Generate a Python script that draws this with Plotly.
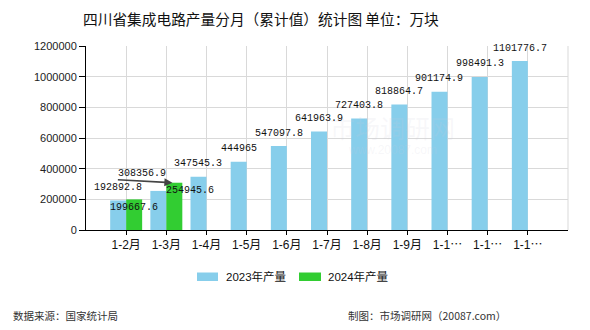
import plotly.graph_objects as go

categories = ["1-2月", "1-3月", "1-4月", "1-5月", "1-6月", "1-7月", "1-8月", "1-9月", "1-10月", "1-11月", "1-12月"]
tick_labels = ["1-2月", "1-3月", "1-4月", "1-5月", "1-6月", "1-7月", "1-8月", "1-9月", "1-1⋯", "1-1⋯", "1-1⋯"]
values_2023 = [192892.8, 254945.6, 347545.3, 444965, 547097.8, 641963.9, 727403.8, 818864.7, 901174.9, 998491.3, 1101776.7]
values_2024 = [199667.6, 308356.9]
label_2023 = ["192892.8", "254945.6", "347545.3", "444965", "547097.8", "641963.9", "727403.8", "818864.7", "901174.9", "998491.3", "1101776.7"]
label_2024 = ["199667.6", "308356.9"]
series_names = ["2023年产量", "2024年产量"]
colors = ["#87CEEB", "#32CD32"]

W, H = 590, 330
L, R, T, B = 86, 22, 46, 100
PW, PH = W - L - R, H - T - B


def px_x(px):
    return (px - L) / PW


def px_y(py):
    return (H - B - py) / PH


fig = go.Figure()
fig.add_trace(go.Bar(x=categories, y=values_2023, name=series_names[0],
                     marker=dict(color=colors[0], line=dict(width=0))))
fig.add_trace(go.Bar(x=categories[:len(values_2024)], y=values_2024, name=series_names[1],
                     marker=dict(color=colors[1], line=dict(width=0))))

lab_font = dict(family="Liberation Mono, DejaVu Sans Mono, monospace", size=10, color="#111")
annotations = []
# watermark (drawn first so labels sit on top)
annotations.append(dict(x=px_x(392), y=px_y(127), xref="paper", yref="paper",
                        text="市场调研网", showarrow=False, xanchor="center", yanchor="middle",
                        font=dict(family="Noto Sans CJK SC", size=25, color="rgba(205,205,220,0.16)")))
annotations.append(dict(x=px_x(392), y=px_y(150), xref="paper", yref="paper",
                        text="www.20087.com", showarrow=False, xanchor="center", yanchor="middle",
                        font=dict(family="Liberation Sans", size=12, color="rgba(205,205,220,0.16)")))
# special label displacement (overlapping labels in original)
shift_2023 = {1: (32, 0)}
shift_2024 = {0: (0, -8), 1: (-32, 9)}
for i, v in enumerate(values_2023):
    dx, dy = shift_2023.get(i, (0, 13))
    annotations.append(dict(x=i - 0.2, y=v, xref="x", yref="y", text=label_2023[i],
                            showarrow=False, xanchor="center", yanchor="middle",
                            xshift=dx, yshift=dy, font=lab_font))
for i, v in enumerate(values_2024):
    dx, dy = shift_2024.get(i, (0, 13))
    annotations.append(dict(x=i + 0.2, y=v, xref="x", yref="y", text=label_2024[i],
                            showarrow=False, xanchor="center", yanchor="middle",
                            xshift=dx, yshift=dy, font=lab_font))
# leader arrow for displaced 2024 label
annotations.append(dict(x=1 + 0.2, y=values_2024[1], xref="x", yref="y", text="",
                        showarrow=True, arrowhead=2, arrowsize=1, arrowwidth=1.6,
                        arrowcolor="#444", ax=-56, ay=-3, xshift=-2, yshift=0))

# title
annotations.append(dict(x=px_x(261), y=px_y(18), xref="paper", yref="paper",
                        text="四川省集成电路产量分月（累计值）统计图 单位：万块",
                        showarrow=False, xanchor="center", yanchor="middle",
                        font=dict(family="Noto Sans CJK SC", size=14.7, color="#111")))
# legend texts
leg_font = dict(family="Liberation Sans, Noto Sans CJK SC", size=11.5, color="#111")
annotations.append(dict(x=px_x(224), y=px_y(276.5), xref="paper", yref="paper", text=series_names[0],
                        showarrow=False, xanchor="left", yanchor="middle", font=leg_font))
annotations.append(dict(x=px_x(326), y=px_y(276.5), xref="paper", yref="paper", text=series_names[1],
                        showarrow=False, xanchor="left", yanchor="middle", font=leg_font))
# footer
foot_font = dict(family="Noto Sans CJK SC", size=10.5, color="#333")
annotations.append(dict(x=px_x(11), y=px_y(315), xref="paper", yref="paper", text="数据来源：国家统计局",
                        showarrow=False, xanchor="left", yanchor="middle", font=foot_font))
annotations.append(dict(x=px_x(508), y=px_y(315), xref="paper", yref="paper", text="制图：市场调研网（20087.com）",
                        showarrow=False, xanchor="right", yanchor="middle", font=foot_font))

shapes = [
    dict(type="rect", xref="paper", yref="paper", x0=px_x(197), x1=px_x(218), y0=px_y(281), y1=px_y(272.5),
         fillcolor=colors[0], line=dict(width=0)),
    dict(type="rect", xref="paper", yref="paper", x0=px_x(299), x1=px_x(321), y0=px_y(281), y1=px_y(272.5),
         fillcolor=colors[1], line=dict(width=0)),
    dict(type="line", xref="paper", yref="paper", x0=1, x1=1, y0=0, y1=1,
         line=dict(color="#d9d9d9", width=1), layer="below"),
]

fig.update_layout(
    width=W, height=H,
    margin=dict(l=L, r=R, t=T, b=B, pad=0),
    paper_bgcolor="white", plot_bgcolor="white",
    barmode="group", bargap=0.204, bargroupgap=0,
    showlegend=False,
    annotations=annotations, shapes=shapes,
    xaxis=dict(type="category", categoryorder="array", categoryarray=categories,
               tickvals=categories, ticktext=tick_labels,
               range=[-1, 11], showgrid=True, gridcolor="#d9d9d9", gridwidth=1,
               showline=True, linecolor="#000", linewidth=1,
               ticks="outside", ticklen=4, tickcolor="#000",
               tickfont=dict(family="Liberation Sans, Noto Sans CJK SC", size=12, color="#111"),
               zeroline=False),
    yaxis=dict(range=[0, 1200000], dtick=200000, tick0=0, tickformat="d",
               showgrid=True, gridcolor="#d9d9d9", gridwidth=1,
               showline=True, linecolor="#000", linewidth=1,
               ticks="outside", ticklen=6, tickcolor="#000",
               tickfont=dict(family="Liberation Sans", size=11, color="#222"),
               zeroline=False),
)

fig.write_html("out.html")
